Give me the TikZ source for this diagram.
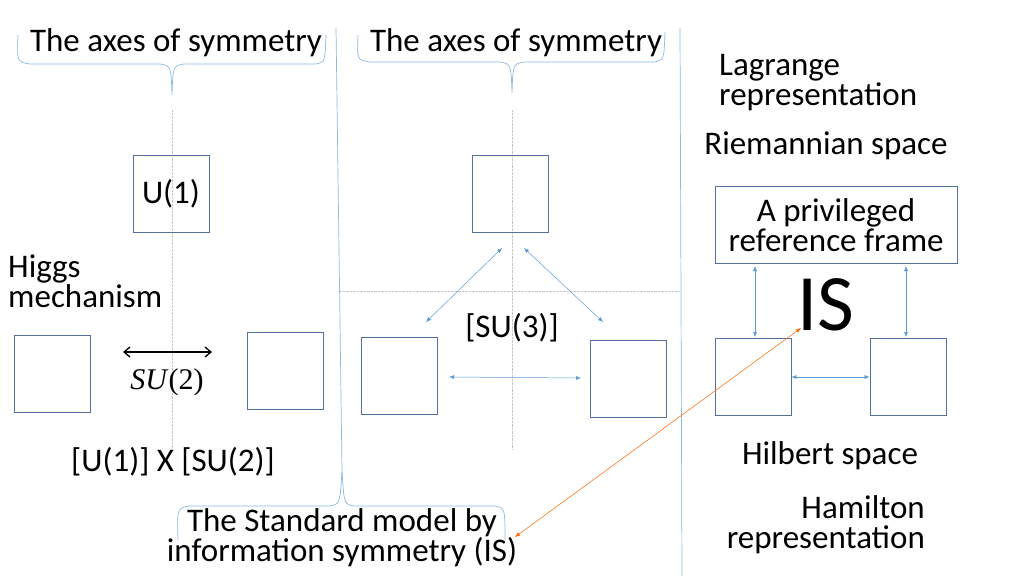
\documentclass[tikz,border=0pt]{standalone}
\usepackage{fontspec}
\setmainfont{Carlito}
\newfontfamily\serifit{Liberation Serif}
\usetikzlibrary{arrows.meta,calc}
\definecolor{boxc}{RGB}{84,112,160}
\definecolor{arc}{RGB}{91,155,213}
\begin{document}
\begin{tikzpicture}[x=1pt,y=-1pt,
 bx/.style={draw=boxc,line width=0.9pt,minimum width=76pt,minimum height=77pt,inner sep=0pt},
 lb/.style={font=\fontsize{33}{30}\selectfont,inner sep=0pt,align=center},
 ax/.style={gray!45,densely dotted,line width=0.4pt},
 ar/.style={{Latex[length=5pt,width=4pt]}-{Latex[length=5pt,width=4pt]},color=arc,line width=0.5pt},
 br/.style={arc!70,line width=0.7pt}]
\useasboundingbox (0,0) rectangle (1024,576);
% dividers
\draw[br] (336,28) -- (342,470);
\draw[br] (680,28) -- (682,576);
% braces
\draw[br] (18,35) .. controls (17,62) .. (30,64) -- (160,64) .. controls (171,66) .. (172,95) .. controls (173,66) .. (184,64) -- (316,64) .. controls (325,62) .. (326,35);
\draw[br] (358,35) .. controls (357,60) .. (370,62) -- (500,62) .. controls (511,64) .. (512,93) .. controls (513,64) .. (524,62) -- (654,62) .. controls (664,60) .. (665,32);
\draw[br] (178,540) .. controls (177,508) .. (190,506) -- (330,506) .. controls (340,504) .. (342,470) .. controls (344,504) .. (354,506) -- (495,506) .. controls (505,508) .. (505,540);
% axes
\draw[ax] (172,110) -- (172,450);
\draw[ax] (512,110) -- (512,450);
\draw[ax] (340,291) -- (680,291);
% texts
\node[lb] (t1) at (176,43) {The axes of symmetry};
\node[lb] (t2) at (516,43) {The axes of symmetry};
\node[lb,align=left,anchor=west] (lag) at (719,83) {Lagrange\\representation};
\node[lb] (riem) at (826,146) {Riemannian space};
\node[lb,align=left,anchor=west] (higgs) at (8,281) {Higgs\\mechanism};
\node[lb] (u1su2) at (173,462) {[U(1)] X [SU(2)]};
\node[lb] (su3) at (512,328) {[SU(3)]};
\node[lb] (hilb) at (830,456) {Hilbert space};
\node[lb,align=right,anchor=east] (ham) at (925,525) {Hamilton\\representation};
\node[lb] (sm) at (342,538) {The Standard model by\\information symmetry (IS)};
\node[font=\fontsize{80}{80}\selectfont,inner sep=0pt] (is) at (826,305) {IS};
% boxes
\node[bx,label={[lb]center:U(1)}] (bu1) at (171,194) {};
\node[bx] (m1) at (510,194) {};
\node[bx] (l1) at (52,374) {};
\node[bx] (l2) at (285,371) {};
\node[bx] (m2) at (399,376) {};
\node[bx] (m3) at (628,379) {};
\node[bx] (r1) at (753,377) {};
\node[bx] (r2) at (908,377) {};
\node[bx,minimum width=242pt,lb] (priv) at (836,225) {A privileged\\reference frame};
% arrows
\coordinate (s1) at (123,352); \coordinate (s2) at (212,352);
\draw[{Straight Barb[length=6pt,width=10pt]}-{Straight Barb[length=6pt,width=10pt]},line width=1.3pt] (s1) -- (s2);
\node[font=\fontsize{30}{30}\serifit] (su2) at (167,382) {\textit{SU}(2)};
\coordinate (a1) at (502,248); \coordinate (a2) at (426,322);
\coordinate (b1) at (524,248); \coordinate (b2) at (603,322);
\draw[ar] (a1) -- (a2);
\draw[ar] (b1) -- (b2);
\coordinate (c1) at (449,377); \coordinate (c2) at (581,378);
\draw[ar] (c1) -- (c2);
\coordinate (d1) at (755,266); \coordinate (d2) at (755,337);
\draw[ar] (d1) -- (d2);
\coordinate (e1) at (906,266); \coordinate (e2) at (906,337);
\draw[ar] (e1) -- (e2);
\draw[ar] (r1.east) -- (r2.west);
\coordinate (o1) at (801,328); \coordinate (o2) at (515,537);
\draw[{Latex[length=5pt,width=4pt]}-{Latex[length=5pt,width=4pt]},color=orange!80!red,line width=0.5pt] (o1) -- (o2);
\end{tikzpicture}
\end{document}
